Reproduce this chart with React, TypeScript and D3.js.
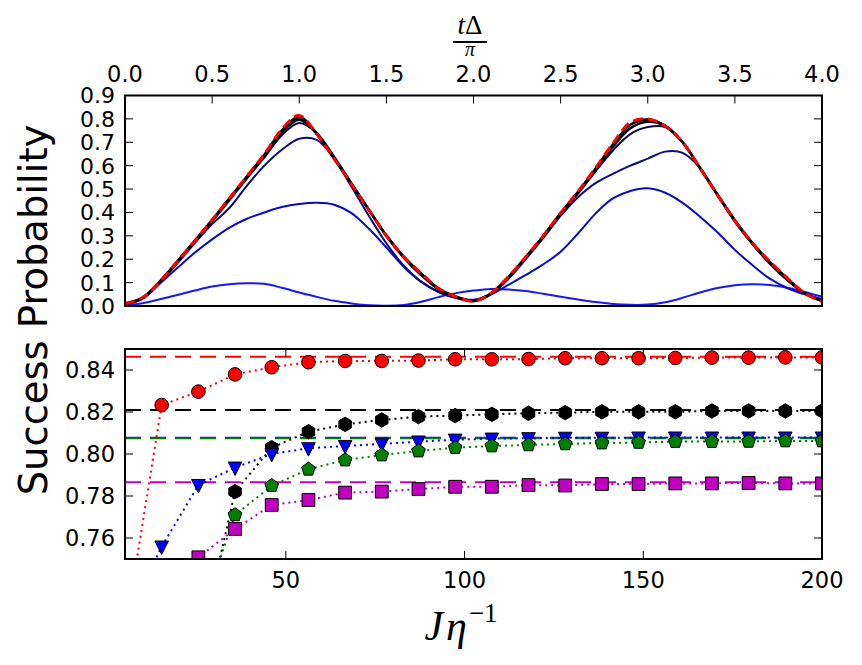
import React from 'react';
import * as d3 from 'd3';

// upper panel: success probability vs t*Delta/pi for increasing J/eta (blue -> black), red = ideal
const tGrid = [0, 0.1, 0.2, 0.3, 0.4, 0.5, 0.6, 0.7, 0.8, 0.9, 1.0, 1.1, 1.2, 1.3, 1.4, 1.5, 1.6, 1.7, 1.8, 1.9, 2.0,
  2.1, 2.2, 2.3, 2.4, 2.5, 2.6, 2.7, 2.8, 2.9, 3.0, 3.1, 3.2, 3.3, 3.4, 3.5, 3.6, 3.7, 3.8, 3.9, 4.0];

const probA = [0.004, 0.012, 0.029, 0.047, 0.066, 0.083, 0.093, 0.097, 0.095, 0.078, 0.058, 0.039, 0.022, 0.011, 0.003, 0.001, 0.004, 0.018, 0.038, 0.055, 0.066,
  0.073, 0.071, 0.064, 0.052, 0.04, 0.028, 0.017, 0.009, 0.005, 0.006, 0.016, 0.035, 0.058, 0.077, 0.089, 0.093, 0.09, 0.078, 0.06, 0.04];
const probB = [0.005, 0.03, 0.095, 0.162, 0.228, 0.285, 0.335, 0.373, 0.4, 0.423, 0.436, 0.441, 0.433, 0.397, 0.33, 0.25, 0.167, 0.103, 0.06, 0.034, 0.027,
  0.05, 0.09, 0.133, 0.178, 0.232, 0.31, 0.395, 0.46, 0.492, 0.503, 0.484, 0.441, 0.382, 0.315, 0.24, 0.175, 0.117, 0.077, 0.05, 0.03];
const probC = [0.008, 0.032, 0.1, 0.182, 0.268, 0.35, 0.42, 0.515, 0.6, 0.668, 0.715, 0.71, 0.63, 0.51, 0.385, 0.268, 0.172, 0.104, 0.06, 0.035, 0.025,
  0.05, 0.115, 0.2, 0.29, 0.385, 0.465, 0.525, 0.565, 0.6, 0.63, 0.66, 0.655, 0.59, 0.475, 0.36, 0.265, 0.18, 0.11, 0.055, 0.025];
const probD = [0.008, 0.033, 0.1, 0.185, 0.272, 0.36, 0.452, 0.545, 0.635, 0.73, 0.782, 0.74, 0.64, 0.525, 0.41, 0.3, 0.205, 0.13, 0.07, 0.035, 0.022,
  0.05, 0.12, 0.205, 0.295, 0.39, 0.48, 0.575, 0.665, 0.735, 0.765, 0.765, 0.7, 0.59, 0.475, 0.365, 0.27, 0.185, 0.112, 0.055, 0.025];
const probE = [0.01, 0.035, 0.104, 0.19, 0.278, 0.366, 0.459, 0.552, 0.642, 0.742, 0.797, 0.738, 0.632, 0.522, 0.411, 0.301, 0.209, 0.137, 0.073, 0.039, 0.022,
  0.053, 0.123, 0.208, 0.298, 0.395, 0.486, 0.583, 0.68, 0.76, 0.788, 0.77, 0.7, 0.59, 0.476, 0.366, 0.268, 0.187, 0.116, 0.055, 0.022];
const probF = [0.01, 0.035, 0.105, 0.19, 0.278, 0.367, 0.46, 0.553, 0.647, 0.75, 0.808, 0.737, 0.632, 0.522, 0.411, 0.301, 0.21, 0.138, 0.074, 0.04, 0.022,
  0.053, 0.123, 0.208, 0.298, 0.396, 0.488, 0.587, 0.69, 0.775, 0.797, 0.77, 0.7, 0.59, 0.476, 0.366, 0.27, 0.188, 0.118, 0.055, 0.022];
const probIdeal = [0.01, 0.035, 0.105, 0.19, 0.278, 0.368, 0.462, 0.555, 0.65, 0.755, 0.815, 0.735, 0.63, 0.52, 0.41, 0.3, 0.21, 0.14, 0.075, 0.04, 0.02,
  0.055, 0.125, 0.21, 0.3, 0.398, 0.49, 0.59, 0.695, 0.785, 0.8, 0.77, 0.7, 0.59, 0.475, 0.365, 0.27, 0.19, 0.12, 0.055, 0.02];

const curveColors = ['#1818f4', '#0a0ac4', '#0c0c78', '#080840', '#040418', '#000000'];

// lower panel: peak success probability vs J/eta
const jGrid = [5, 15.26, 25.53, 35.79, 46.05, 56.32, 66.58, 76.84, 87.11, 97.37,
  107.63, 117.89, 128.16, 138.42, 148.68, 158.95, 169.21, 179.47, 189.74, 200];
const redPeak = [0.715, 0.8233, 0.8297, 0.8379, 0.8413, 0.8437, 0.8443, 0.8443, 0.8445, 0.8451,
  0.8451, 0.8452, 0.8456, 0.8456, 0.8456, 0.8457, 0.8459, 0.8459, 0.846, 0.846];
const blackPeak = [0.55, 0.63, 0.705, 0.7821, 0.803, 0.8106, 0.8141, 0.8162, 0.8178, 0.8183,
  0.8189, 0.8194, 0.8197, 0.8201, 0.8201, 0.8201, 0.8205, 0.8205, 0.8205, 0.8205];
const bluePeak = [0.72, 0.7559, 0.7852, 0.7935, 0.8, 0.8027, 0.8038, 0.8048, 0.8059, 0.8068,
  0.8073, 0.8075, 0.8077, 0.8077, 0.8078, 0.8078, 0.8078, 0.8078, 0.8078, 0.8078];
const greenPeak = [0.58, 0.66, 0.72, 0.771, 0.7849, 0.7927, 0.7971, 0.7995, 0.8014, 0.803,
  0.8038, 0.8043, 0.8048, 0.8052, 0.8055, 0.8059, 0.8059, 0.806, 0.8062, 0.8062];
const magentaPeak = [0.6, 0.68, 0.7508, 0.7643, 0.7757, 0.7781, 0.7816, 0.7821, 0.7833, 0.7844,
  0.7844, 0.7852, 0.785, 0.7857, 0.7857, 0.786, 0.786, 0.7862, 0.786, 0.786];
const limits = [0.8463, 0.8209, 0.8077, 0.8075, 0.7865];

const topXTicks = [0, 0.5, 1, 1.5, 2, 2.5, 3, 3.5, 4];
const topYTicks = [0, 0.1, 0.2, 0.3, 0.4, 0.5, 0.6, 0.7, 0.8, 0.9];
const botXTicks = [50, 100, 150, 200];
const botYTicks = [0.76, 0.78, 0.8, 0.82, 0.84];

const L = 125, R = 822;
const xTop = d3.scaleLinear().domain([0, 4]).range([L, R]);
const yTop = d3.scaleLinear().domain([0, 0.9]).range([306, 95.5]);
const xBot = d3.scaleLinear().domain([5, 200]).range([L, R]);
const yBot = d3.scaleLinear().domain([0.75, 0.85]).range([559, 349]);

const font = 'DejaVu Sans';
const TL = 8;

function polygon(n: number, r: number, rot: number) {
  const pts = d3.range(n).map((i) => {
    const a = rot + (i * 2 * Math.PI) / n;
    return [r * Math.cos(a), r * Math.sin(a)];
  });
  return 'M' + pts.map((p) => p.join(',')).join('L') + 'Z';
}

const markerPaths: Record<string, string> = {
  circle: d3.symbol(d3.symbolCircle, Math.PI * 6.8 * 6.8)() as string,
  hexagon: polygon(6, 7.2, -Math.PI / 2),
  tri: 'M-6.8,-5.6L6.8,-5.6L0,7.8Z',
  pentagon: polygon(5, 7.2, -Math.PI / 2),
  square: 'M-6.4,-6.4L6.4,-6.4L6.4,6.4L-6.4,6.4Z',
};

const series = [
  { vals: redPeak, color: '#ff0000', marker: 'circle' },
  { vals: blackPeak, color: '#000000', marker: 'hexagon' },
  { vals: bluePeak, color: '#0000ff', marker: 'tri' },
  { vals: greenPeak, color: '#007f00', marker: 'pentagon' },
  { vals: magentaPeak, color: '#bf00bf', marker: 'square' },
];
const limitColors = ['#ff0000', '#000000', '#0000ff', '#007f00', '#bf00bf'];

const App = () => {
  const topLine = d3.line<number>()
    .x((_, i) => xTop(tGrid[i]))
    .y((d) => yTop(d))
    .curve(d3.curveCatmullRom.alpha(0.5));
  const botLine = d3.line<number>()
    .x((_, i) => xBot(jGrid[i]))
    .y((d) => yBot(d));

  const curves = [probA, probB, probC, probD, probE, probF];

  return (
    <svg width={862} height={665} style={{ position: 'absolute', left: 0, top: 0, background: '#fff' }}>
      <defs>
        <clipPath id="clipTop"><rect x={L} y={95.5} width={R - L} height={306 - 95.5} /></clipPath>
        <clipPath id="clipBot"><rect x={L} y={349} width={R - L} height={559 - 349} /></clipPath>
      </defs>

      {/* upper panel */}
      <g clipPath="url(#clipTop)">
        {curves.map((c, i) => (
          <path key={i} d={topLine(c) as string} fill="none" stroke={curveColors[i]}
            strokeWidth={i >= 4 ? 2.6 : 2} />
        ))}
        <path d={topLine(probIdeal) as string} fill="none" stroke="#ff0000" strokeWidth={3}
          strokeDasharray="10,5" />
      </g>
      {topXTicks.map((t) => (
        <g key={t}>
          <line x1={xTop(t)} x2={xTop(t)} y1={95.5} y2={95.5 + TL} stroke="#000" />
          <text x={xTop(t)} y={82} textAnchor="middle" fontFamily={font} fontSize={22.5}>{t.toFixed(1)}</text>
        </g>
      ))}
      {topYTicks.map((t) => (
        <g key={t}>
          <line x1={L} x2={L + TL} y1={yTop(t)} y2={yTop(t)} stroke="#000" />
          <line x1={R} x2={R - TL} y1={yTop(t)} y2={yTop(t)} stroke="#000" />
          <text x={115} y={yTop(t)} dy="0.36em" textAnchor="end" fontFamily={font} fontSize={22}>{t.toFixed(1)}</text>
        </g>
      ))}
      <rect x={L} y={95.5} width={R - L} height={306 - 95.5} fill="none" stroke="#000" strokeWidth={2} />

      {/* lower panel */}
      <g clipPath="url(#clipBot)">
        {limits.map((v, i) => (
          <line key={i} x1={L} x2={R} y1={yBot(v)} y2={yBot(v)} stroke={limitColors[i]} strokeWidth={2}
            strokeDasharray="16,9" />
        ))}
        {series.map((s, i) => (
          <path key={i} d={botLine(s.vals) as string} fill="none" stroke={s.color} strokeWidth={2}
            strokeDasharray="2,4" />
        ))}
        {series.map((s, i) => (
          <g key={i}>
            {s.vals.map((v, j) => (
              <path key={j} d={markerPaths[s.marker]} transform={`translate(${xBot(jGrid[j])},${yBot(v)})`}
                fill={s.color} stroke="#000" strokeWidth={1} />
            ))}
          </g>
        ))}
      </g>
      {botXTicks.map((t) => (
        <g key={t}>
          <line x1={xBot(t)} x2={xBot(t)} y1={559} y2={559 - TL} stroke="#000" />
          <line x1={xBot(t)} x2={xBot(t)} y1={349} y2={349 + TL} stroke="#000" />
          <text x={xBot(t)} y={588} textAnchor="middle" fontFamily={font} fontSize={22.5}>{t}</text>
        </g>
      ))}
      {botYTicks.map((t) => (
        <g key={t}>
          <line x1={L} x2={L + TL} y1={yBot(t)} y2={yBot(t)} stroke="#000" />
          <line x1={R} x2={R - TL} y1={yBot(t)} y2={yBot(t)} stroke="#000" />
          <text x={115} y={yBot(t)} dy="0.36em" textAnchor="end" fontFamily={font} fontSize={22.5}>{t.toFixed(2)}</text>
        </g>
      ))}
      <rect x={L} y={349} width={R - L} height={559 - 349} fill="none" stroke="#000" strokeWidth={2} />

      {/* labels */}
      <text transform="translate(47,310) rotate(-90)" textAnchor="middle" fontFamily={font} fontSize={38.5}>
        Success Probability
      </text>
      <g fontFamily="Liberation Serif">
        <text x={470} y={34} textAnchor="middle" fontSize={27}>
          <tspan fontStyle="italic">t</tspan>Δ
        </text>
        <line x1={453} x2={487} y1={42} y2={42} stroke="#000" strokeWidth={2} />
        <text x={470} y={56} textAnchor="middle" fontSize={20} fontStyle="italic">π</text>
        <text x={461} y={640} textAnchor="middle" fontSize={42}>
          <tspan fontStyle="italic">J</tspan>
          <tspan fontStyle="italic" dx={3}>η</tspan>
          <tspan fontSize={27} dy={-18} dx={2}>−1</tspan>
        </text>
      </g>
    </svg>
  );
};

export default App;
